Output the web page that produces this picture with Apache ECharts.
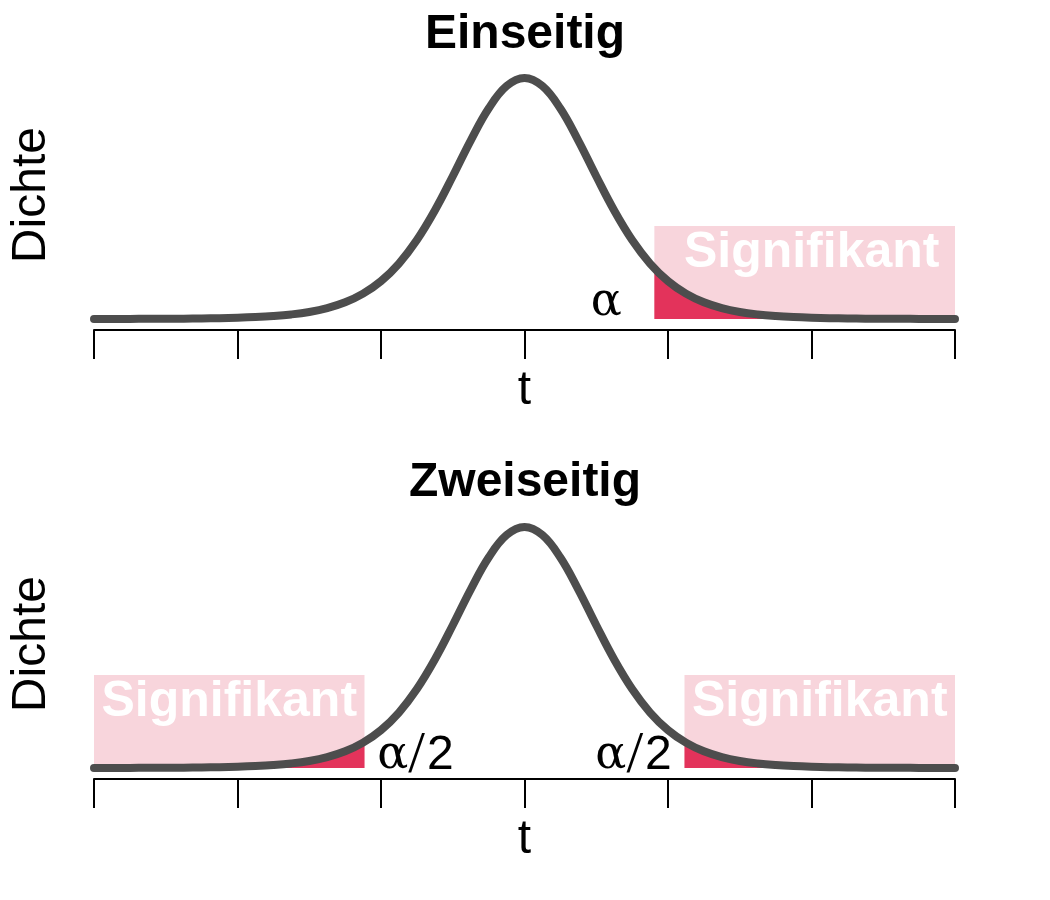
<!DOCTYPE html>
<html>
<head>
<meta charset="utf-8">
<script src="https://cdn.jsdelivr.net/npm/echarts@6/dist/echarts.min.js"></script>
<style>
  html, body { margin: 0; padding: 0; background: #ffffff; }
  #chart { width: 1050px; height: 900px; }
</style>
</head>
<body>
<div id="chart"></div>
<script>
// ---- data ----
const panelTitles = ['Einseitig', 'Zweiseitig'];
const xAxisTitle = 't';
const yAxisTitle = 'Dichte';
const sigLabel = 'Signifikant';

const tGrid = [-6, -5.75, -5.5, -5.25, -5, -4.75, -4.5, -4.25, -4, -3.75, -3.5, -3.25, -3, -2.75, -2.5, -2.25,
  -2, -1.75, -1.5, -1.25, -1, -0.75, -0.5, -0.25, 0, 0.25, 0.5, 0.75, 1, 1.25, 1.5, 1.75, 2, 2.25, 2.5, 2.75,
  3, 3.25, 3.5, 3.75, 4, 4.25, 4.5, 4.75, 5, 5.25, 5.5, 5.75, 6];
const density = [0.0001, 0.0001, 0.0002, 0.0003, 0.0004, 0.0006, 0.0009, 0.0013, 0.0020, 0.0031, 0.0048, 0.0074,
  0.0114, 0.0176, 0.0269, 0.0409, 0.0611, 0.0895, 0.1274, 0.1751, 0.2304, 0.2880, 0.3397, 0.3760, 0.3891,
  0.3760, 0.3397, 0.2880, 0.2304, 0.1751, 0.1274, 0.0895, 0.0611, 0.0409, 0.0269, 0.0176, 0.0114, 0.0074,
  0.0048, 0.0031, 0.0020, 0.0013, 0.0009, 0.0006, 0.0004, 0.0003, 0.0002, 0.0001, 0.0001];

const critOne = 1.81;        // one-sided critical value
const critOneDensity = 0.0819;
const critTwo = 2.23;        // two-sided critical value
const critTwoDensity = 0.0423;
const sigBoxHeight = 0.15;   // height of the "Signifikant" boxes (density units)

const alphaOne = [1.14, 0.0250];        // position of "α"
const alphaTwoLeft = [-1.52, 0.0194];   // position of left "α/2"
const alphaTwoRight = [1.52, 0.0194];   // position of right "α/2"

const xTicks = [-6, -4, -2, 0, 2, 4, 6];

// ---- build ----
const curve = tGrid.map((x, i) => [x, density[i]]);
const rightTail = (c, d) => [[c, d]].concat(curve.filter(p => p[0] > c));
const leftTail = (c, d) => curve.filter(p => p[0] < -c).concat([[-c, d]]);

const SANS = '"Liberation Sans", Arial, Helvetica, sans-serif';
const SERIF = '"DejaVu Serif", "Liberation Serif", serif';
const CURVE = '#4D4D4D';
const RED = '#E3335B';
const PINK = '#F8D5DC';

function grid(top) { return { left: 93, right: 95, top: top, height: 247.8 }; }

function xAxis(idx) {
  return {
    gridIndex: idx, type: 'value', min: xTicks[0], max: xTicks[xTicks.length - 1], interval: 2,
    position: 'bottom', offset: 11,
    axisLine: { show: true, onZero: false, lineStyle: { color: '#000', width: 2 } },
    axisTick: { show: true, length: 29, lineStyle: { color: '#000', width: 2 } },
    axisLabel: { show: false }, splitLine: { show: false },
    name: xAxisTitle, nameLocation: 'middle', nameGap: 37,
    nameTextStyle: { fontSize: 48, color: '#000', fontFamily: SANS, lineHeight: 48 }
  };
}
function yAxis(idx) {
  return {
    gridIndex: idx, type: 'value', min: 0, max: 0.4,
    axisLine: { show: false, onZero: false }, axisTick: { show: false }, axisLabel: { show: false },
    splitLine: { show: false },
    name: yAxisTitle, nameLocation: 'middle', nameGap: 38,
    nameTextStyle: { fontSize: 48, color: '#000', fontFamily: SANS, lineHeight: 48 }
  };
}
function curveSeries(idx) {
  return {
    type: 'line', xAxisIndex: idx, yAxisIndex: idx, data: curve, smooth: 0.4, symbol: 'none',
    clip: false, z: 4, silent: true,
    lineStyle: { color: CURVE, width: 8, cap: 'round', join: 'round' }
  };
}
function sigBox(x1, x2, offsetX) {
  return [
    { name: sigLabel, coord: [x1, 0],
      label: { offset: [offsetX, 0] } },
    { coord: [x2, sigBoxHeight] }
  ];
}
function tailSeries(idx, data, boxes) {
  const s = {
    type: 'line', xAxisIndex: idx, yAxisIndex: idx, data: data, smooth: 0.4, symbol: 'none', z: 3,
    silent: true,
    lineStyle: { width: 0, opacity: 0 },
    areaStyle: { color: RED, opacity: 1 }
  };
  if (boxes) {
    s.markArea = {
      silent: true,
      itemStyle: { color: PINK, opacity: 1 },
      label: { show: true, position: 'insideTop', distance: 2, color: '#fff', fontSize: 50,
        fontWeight: 'bold', fontFamily: SANS, lineHeight: 50, textBorderWidth: 0 },
      data: boxes
    };
  }
  return s;
}
function labelSeries(idx, pts, rich) {
  return {
    type: 'scatter', xAxisIndex: idx, yAxisIndex: idx, symbolSize: 0, z: 5, silent: true,
    itemStyle: { color: '#000', opacity: 1 },
    data: pts.map(p => ({ value: p })),
    label: {
      show: true, position: 'inside', formatter: rich ? '{a|α}{s|/}{b|2}' : '{a|α}',
      textBorderWidth: 0, textShadowBlur: 0, color: '#000', opacity: 1,
      rich: {
        a: { fontFamily: SERIF, fontSize: 46, color: '#000', lineHeight: 56, textBorderWidth: 0 },
        s: { fontFamily: '"Liberation Serif", serif', fontSize: 60, color: '#000', lineHeight: 56, textBorderWidth: 0, padding: [0, 2, 0, 0] },
        b: { fontFamily: SANS, fontSize: 48, color: '#000', lineHeight: 56, textBorderWidth: 0 }
      }
    }
  };
}

const option = {
  backgroundColor: '#fff',
  animation: false,
  title: [
    { text: panelTitles[0], left: 'center', top: 6,
      textStyle: { fontSize: 48, fontWeight: 'bold', color: '#000', fontFamily: SANS, lineHeight: 48 } },
    { text: panelTitles[1], left: 'center', top: 454,
      textStyle: { fontSize: 48, fontWeight: 'bold', color: '#000', fontFamily: SANS, lineHeight: 48 } }
  ],
  grid: [grid(71.2), grid(520.2)],
  xAxis: [xAxis(0), xAxis(1)],
  yAxis: [yAxis(0), yAxis(1)],
  series: [
    tailSeries(0, rightTail(critOne, critOneDensity), [sigBox(critOne, 6, 7)]),
    curveSeries(0),
    labelSeries(0, [alphaOne], false),
    tailSeries(1, leftTail(critTwo, critTwoDensity), [sigBox(-6, -critTwo, 0), sigBox(critTwo, 6, 0)]),
    tailSeries(1, rightTail(critTwo, critTwoDensity), null),
    curveSeries(1),
    labelSeries(1, [alphaTwoLeft, alphaTwoRight], true)
  ]
};

const chart = echarts.init(document.getElementById('chart'), null, { renderer: 'canvas' });
chart.setOption(option);
</script>
</body>
</html>
